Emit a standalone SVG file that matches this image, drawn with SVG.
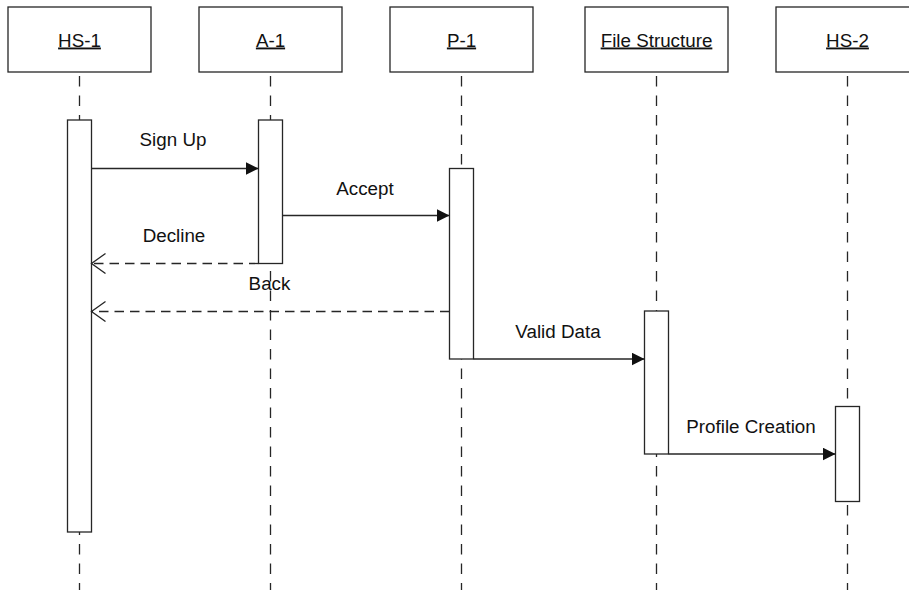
<svg xmlns="http://www.w3.org/2000/svg" width="909" height="590" viewBox="0 0 909 590">
  <style>
    .head { fill: #ffffff; stroke: #262626; stroke-width: 1.3; }
    .act { fill: #ffffff; stroke: #262626; stroke-width: 1.3; }
    .life { stroke: #262626; stroke-width: 1.3; stroke-dasharray: 10.5 9; fill: none; }
    .msg { stroke: #262626; stroke-width: 1.3; fill: none; }
    .ret { stroke: #262626; stroke-width: 1.3; fill: none; stroke-dasharray: 9.5 6; }
    text { font-family: "Liberation Sans", Arial, sans-serif; font-size: 18.8px; fill: #111111; text-anchor: middle; }
    .title { text-decoration: underline; }
  </style>
  <defs>
    <marker id="solidHead" markerUnits="userSpaceOnUse" markerWidth="14" markerHeight="14" refX="13" refY="6.5" orient="auto">
      <path d="M0,0 L13,6.5 L0,13 z" fill="#111111"/>
    </marker>
    <marker id="openHead" markerUnits="userSpaceOnUse" markerWidth="16" markerHeight="22" refX="14" refY="10" orient="auto">
      <path d="M0,0 L14,10 L0,20" fill="none" stroke="#262626" stroke-width="1.3"/>
    </marker>
  </defs>

  <!-- lifelines -->
  <g id="lifelines">
    <line class="life" x1="79.5" y1="76" x2="79.5" y2="590"/>
    <line class="life" x1="270.5" y1="76" x2="270.5" y2="590"/>
    <line class="life" x1="461.5" y1="76" x2="461.5" y2="590"/>
    <line class="life" x1="656.5" y1="76" x2="656.5" y2="590"/>
    <line class="life" x1="847.5" y1="76" x2="847.5" y2="590"/>
  </g>

  <!-- participants -->
  <g id="hs1">
    <rect class="head" x="8" y="7" width="143" height="65"/>
    <text class="title" x="79.5" y="46.5">HS-1</text>
    <rect class="act" x="67.5" y="120" width="24" height="412"/>
  </g>
  <g id="a1">
    <rect class="head" x="199" y="7" width="143" height="65"/>
    <text class="title" x="270.5" y="46.5">A-1</text>
    <rect class="act" x="258.5" y="120" width="24" height="143.5"/>
  </g>
  <g id="p1">
    <rect class="head" x="390" y="7" width="143" height="65"/>
    <text class="title" x="461.5" y="46.5">P-1</text>
    <rect class="act" x="449.5" y="168.5" width="24" height="190.5"/>
  </g>
  <g id="file-structure">
    <rect class="head" x="585" y="7" width="143" height="65"/>
    <text class="title" x="656.5" y="46.5">File Structure</text>
    <rect class="act" x="644.5" y="311" width="24" height="143"/>
  </g>
  <g id="hs2">
    <rect class="head" x="776" y="7" width="143" height="65"/>
    <text class="title" x="847.5" y="46.5">HS-2</text>
    <rect class="act" x="835.5" y="406.5" width="24" height="95"/>
  </g>

  <!-- messages -->
  <g id="connectors">
    <line class="msg" x1="91.5" y1="168.5" x2="258.5" y2="168.5" marker-end="url(#solidHead)"/>
    <text x="173" y="146">Sign Up</text>

    <line class="msg" x1="282.5" y1="215.5" x2="449.5" y2="215.5" marker-end="url(#solidHead)"/>
    <text x="365" y="194.5">Accept</text>

    <line class="ret" x1="258.5" y1="263.5" x2="91.5" y2="263.5" marker-end="url(#openHead)"/>
    <text x="174" y="242">Decline</text>

    <line class="ret" x1="449.5" y1="311.5" x2="91.5" y2="311.5" marker-end="url(#openHead)"/>
    <text x="269.5" y="289.5">Back</text>

    <line class="msg" x1="473.5" y1="359" x2="644.5" y2="359" marker-end="url(#solidHead)"/>
    <text x="558" y="337.5">Valid Data</text>

    <line class="msg" x1="668.5" y1="454" x2="835.5" y2="454" marker-end="url(#solidHead)"/>
    <text x="751" y="432.5">Profile Creation</text>
  </g>
</svg>
